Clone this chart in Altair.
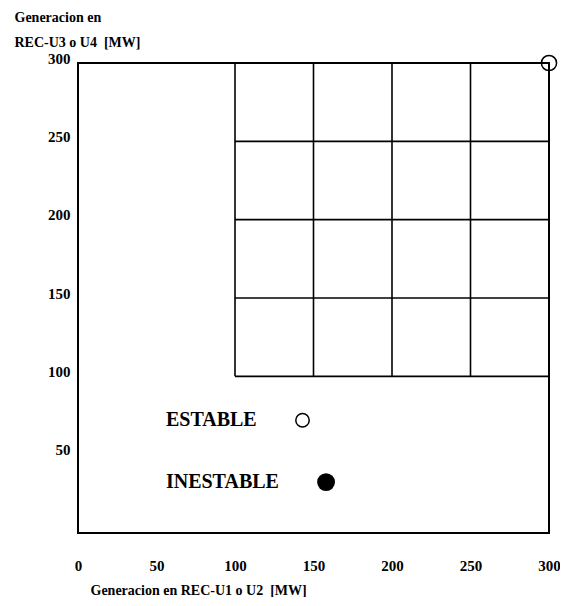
import altair as alt
import pandas as pd

# Axis ticks
x_ticks = [0, 50, 100, 150, 200, 250, 300]
y_ticks = [50, 100, 150, 200, 250, 300]

# Inner grid (region studied)
grid_levels = [100, 150, 200, 250]
grid_start = 100
grid_end = 300

# Observed point (stable)
point_x = [300]
point_y = [300]

# In-plot legend
legend_labels = ["ESTABLE", "INESTABLE"]
legend_text_x = [56, 56]
legend_y = [72, 32.5]
legend_marker_x = [143, 158]
legend_filled = [False, True]

FONT = "Liberation Serif"

hlines = pd.DataFrame({"y": grid_levels, "x": [grid_start] * 4, "x2": [grid_end] * 4})
vlines = pd.DataFrame({"x": grid_levels, "y": [grid_start] * 4, "y2": [grid_end] * 4})
pts = pd.DataFrame({"x": point_x, "y": point_y})
leg = pd.DataFrame({"label": legend_labels, "tx": legend_text_x, "y": legend_y,
                    "mx": legend_marker_x, "filled": legend_filled})

xscale = alt.Scale(domain=[0, 300], nice=False, zero=False)
yscale = alt.Scale(domain=[0, 300], nice=False, zero=False)

xaxis = alt.Axis(values=x_ticks, ticks=False, domain=False, grid=False,
                 labelPadding=32, labelBaseline="middle", labelFlush=False,
                 labelOverlap=False, labelFont=FONT, labelFontSize=15,
                 labelFontWeight="bold", labelColor="black",
                 title="Generacion en REC-U1 o U2\u00a0\u00a0[MW]",
                 titleFont=FONT, titleFontSize=14, titleFontWeight="bold",
                 titleColor="black", titleAlign="left", titleAnchor="start",
                 titleX=12, titleY=57, titleBaseline="middle")
yaxis = alt.Axis(values=y_ticks, ticks=False, domain=False, grid=False,
                 labelPadding=8, labelBaseline="middle", labelOffset=-5,
                 labelFlush=False, labelOverlap=False, labelFont=FONT,
                 labelFontSize=15, labelFontWeight="bold", labelColor="black",
                 title=["Generacion en", "REC-U3 o U4\u00a0\u00a0[MW]"],
                 titleFont=FONT, titleFontSize=14, titleFontWeight="bold",
                 titleColor="black", titleAngle=0, titleAlign="left",
                 titleBaseline="top", titleX=-64, titleY=-53, titleLineHeight=25)

h = alt.Chart(hlines).mark_rule(color="black", strokeWidth=1.6).encode(
    x=alt.X("x:Q", scale=xscale, axis=xaxis),
    x2="x2:Q",
    y=alt.Y("y:Q", scale=yscale, axis=yaxis),
)
v = alt.Chart(vlines).mark_rule(color="black", strokeWidth=1.6).encode(
    x=alt.X("x:Q", scale=xscale),
    y=alt.Y("y:Q", scale=yscale),
    y2="y2:Q",
)
p = alt.Chart(pts).mark_point(shape="circle", filled=False, color="black",
                              size=230, strokeWidth=1.5, opacity=1).encode(
    x=alt.X("x:Q", scale=xscale),
    y=alt.Y("y:Q", scale=yscale),
)
ltext = alt.Chart(leg).mark_text(align="left", baseline="middle", font=FONT,
                                 fontSize=20, fontWeight="bold", color="black").encode(
    x=alt.X("tx:Q", scale=xscale),
    y=alt.Y("y:Q", scale=yscale),
    text="label:N",
)
lopen = alt.Chart(leg).transform_filter("!datum.filled").mark_point(
    shape="circle", filled=False, color="black", size=180, strokeWidth=1.5, opacity=1
).encode(
    x=alt.X("mx:Q", scale=xscale),
    y=alt.Y("y:Q", scale=yscale),
)
lfill = alt.Chart(leg).transform_filter("datum.filled").mark_point(
    shape="circle", filled=True, color="black", size=320, opacity=1
).encode(
    x=alt.X("mx:Q", scale=xscale),
    y=alt.Y("y:Q", scale=yscale),
)

chart = alt.layer(h, v, p, ltext, lopen, lfill).properties(
    width=471, height=470,
    autosize=alt.AutoSizeParams(type="none"),
    padding={"left": 70, "top": 55, "right": 11, "bottom": 64},
).configure(background="white").configure_view(stroke="black", strokeWidth=2)

chart.save("out.html", embed_options={"renderer": "svg", "actions": False})
